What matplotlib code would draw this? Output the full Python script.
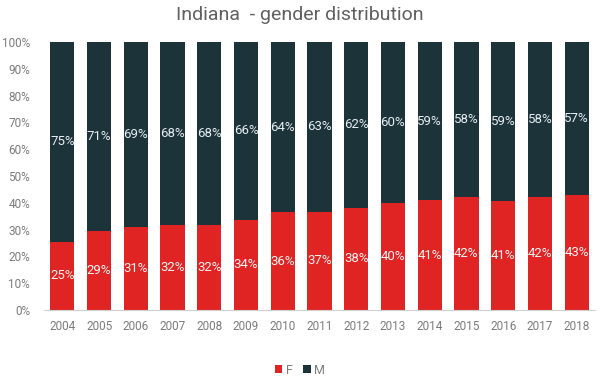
import numpy as np
import matplotlib
matplotlib.use("Agg")
from matplotlib import pyplot as plt

plt.rcParams['font.family'] = ['Roboto', 'DejaVu Sans']

years = [str(y) for y in range(2004, 2019)]
f_share = [25.4, 29.4, 31.0, 31.7, 31.6, 33.6, 36.4, 36.6, 38.1, 39.9, 41.0, 42.2, 40.7, 42.2, 42.9]
m_share = [74.6, 70.6, 69.0, 68.3, 68.4, 66.4, 63.6, 63.4, 61.9, 60.1, 59.0, 57.8, 59.3, 57.8, 57.1]

red = '#e02424'
dark = '#1c333a'

fig = plt.figure(figsize=(6, 3.84), dpi=100)
ax = fig.add_axes([44/600, 1-310/384, 551/600, 268/384])

x = np.arange(len(years))
b1 = ax.bar(x, f_share, width=0.66, color=red, label='F')
b2 = ax.bar(x, m_share, width=0.66, bottom=f_share, color=dark, label='M')

for i in range(len(years)):
    ax.text(x[i], f_share[i]/2, '%d%%' % round(f_share[i]), ha='center', va='center',
            color='#fbf2f2', fontsize=9.5)
    ax.text(x[i], f_share[i] + m_share[i]/2, '%d%%' % round(m_share[i]), ha='center', va='center',
            color='#e6eef2', fontsize=9.5)

ax.set_xlim(-0.5, len(years) - 0.5)
ax.set_ylim(0, 100)
ax.set_xticks(x)
ax.set_xticklabels(years)
ax.set_yticks(range(0, 101, 10))
ax.set_yticklabels(['%d%%' % v for v in range(0, 101, 10)])
ax.tick_params(length=0, labelsize=8.5, colors='#7c7c7c', pad=7)
ax.tick_params(axis='y', pad=10)
for s in ['top', 'right', 'left']:
    ax.spines[s].set_visible(False)
ax.spines['bottom'].set_color('#d0d0d0')

fig.text(0.5, 1-15/384, 'Indiana  - gender distribution', ha='center', va='center',
         fontsize=14, color='#606060')

leg = fig.legend(handles=[b1, b2], loc='center', bbox_to_anchor=(0.5, 1-370/384), ncol=2,
                 frameon=False, handlelength=0.6, handleheight=0.6, handletextpad=0.3,
                 columnspacing=0.8, fontsize=9)
for t in leg.get_texts():
    t.set_color('#7c7c7c')

fig.savefig('out.png', dpi=100)
